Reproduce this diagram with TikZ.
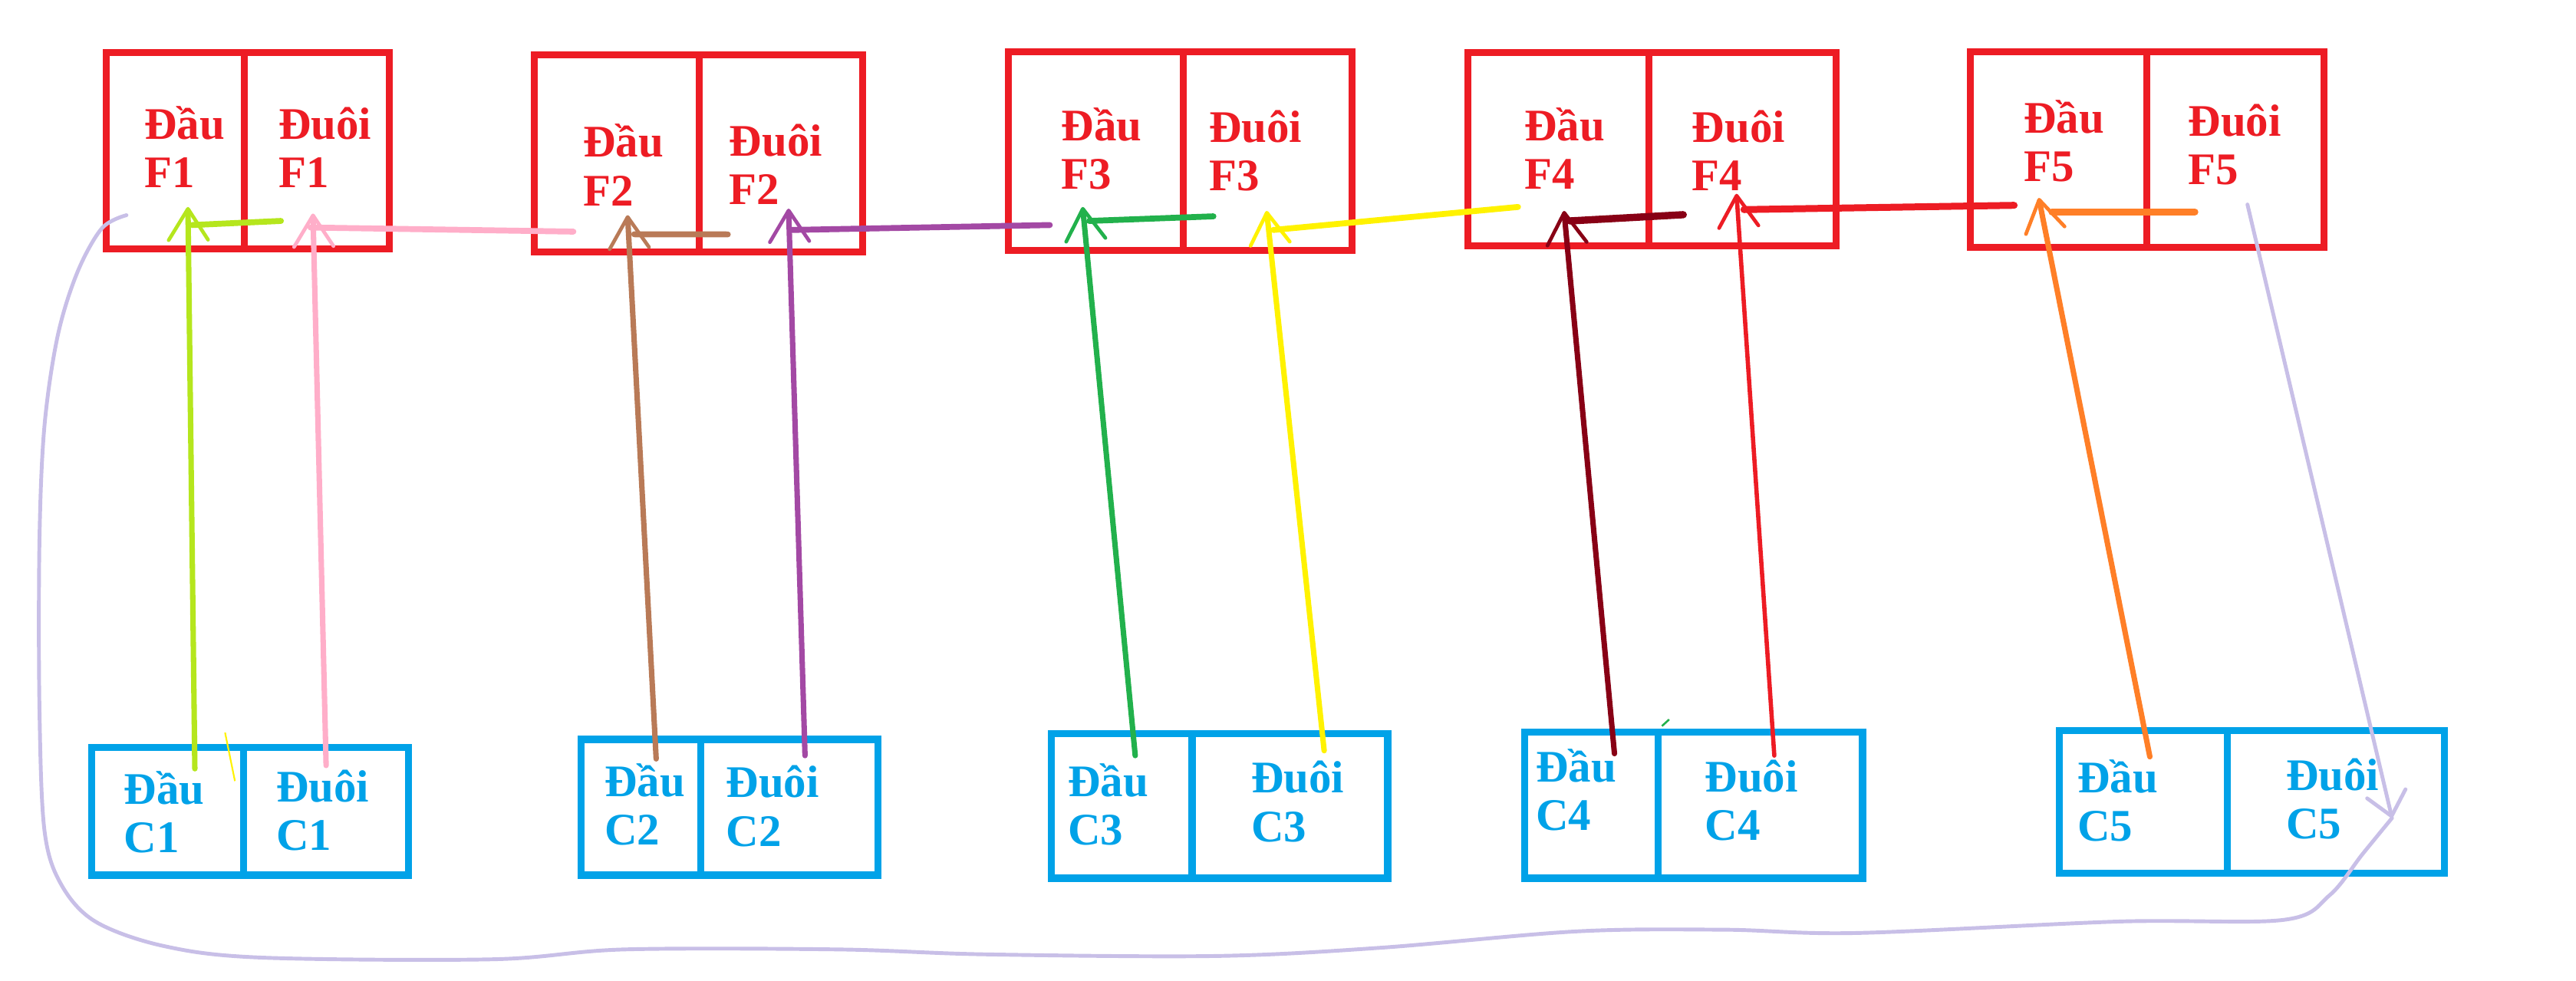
\documentclass[tikz,border=0pt]{standalone}
\usepackage{fontspec}
\setmainfont{Liberation Serif}
\usetikzlibrary{arrows.meta,fit}
\definecolor{fred}{HTML}{ED1C24}
\definecolor{cblue}{HTML}{00A2E8}
\definecolor{clime}{HTML}{B5E61D}
\definecolor{cpink}{HTML}{FFAEC9}
\definecolor{cbrown}{HTML}{B97A57}
\definecolor{cpurple}{HTML}{A349A4}
\definecolor{cgreen}{HTML}{22B14C}
\definecolor{cyellow}{HTML}{FFF200}
\definecolor{cdarkred}{HTML}{880015}
\definecolor{corange}{HTML}{FF7F27}
\definecolor{clav}{HTML}{C8BFE7}
\newcommand{\twoline}[2]{\begin{tabular}[t]{@{}l@{}}#1\\#2\end{tabular}}
\tikzset{
  fcell/.style={draw=fred, line width=4.2pt, inner sep=0pt, line join=miter},
  ccell/.style={draw=cblue, line width=4.4pt, inner sep=0pt, line join=miter},
  celltext/.style={anchor=base west, inner sep=0pt, outer sep=0pt,
    font=\bfseries\fontsize{27.5}{29.5}\selectfont},
  ftext/.style={celltext, text=fred},
  ctext/.style={celltext, text=cblue},
  ptr/.style={line width=3.3pt, line cap=round,
    -{Straight Barb[length=19pt,width=24pt,line width=2.2pt,round]}},
  link/.style={line width=3.6pt, line cap=round},
  lav/.style={draw=clav, line width=2.3pt, line cap=round, line join=round}
}
\begin{document}
\begin{tikzpicture}[x=1pt,y=-1pt]
\useasboundingbox (0,0) rectangle (1568,597);
\fill[white] (0,0) rectangle (1568,597);

% ---------- red F boxes ----------
\node[fcell, fit={(64.7,32) (148.5,151.6)}] (F1a) {};
\node[fcell, fit={(148.5,32) (237,151.6)}] (F1b) {};
\node[fcell, fit={(325.3,33.2) (425.4,153.6)}] (F2a) {};
\node[fcell, fit={(425.4,33.2) (525.3,153.6)}] (F2b) {};
\node[fcell, fit={(613.9,31.4) (720.3,152.6)}] (F3a) {};
\node[fcell, fit={(720.3,31.4) (823,152.6)}] (F3b) {};
\node[fcell, fit={(893.6,32.1) (1003.8,149.7)}] (F4a) {};
\node[fcell, fit={(1003.8,32.1) (1117.8,149.7)}] (F4b) {};
\node[fcell, fit={(1199.1,31.4) (1306.8,150.6)}] (F5a) {};
\node[fcell, fit={(1306.8,31.4) (1414.6,150.6)}] (F5b) {};

% ---------- blue C boxes ----------
\node[ccell, fit={(55.7,455) (148.3,532.7)}] (C1a) {};
\node[ccell, fit={(148.3,455) (248.7,532.7)}] (C1b) {};
\node[ccell, fit={(353.7,450.2) (426.5,532.7)}] (C2a) {};
\node[ccell, fit={(426.5,450.2) (534.5,532.7)}] (C2b) {};
\node[ccell, fit={(640,446.6) (725.6,534.6)}] (C3a) {};
\node[ccell, fit={(725.6,446.6) (844.7,534.6)}] (C3b) {};
\node[ccell, fit={(928.1,445.7) (1009.3,534.6)}] (C4a) {};
\node[ccell, fit={(1009.3,445.7) (1133.7,534.6)}] (C4b) {};
\node[ccell, fit={(1253.5,444.8) (1355.8,531.7)}] (C5a) {};
\node[ccell, fit={(1355.8,444.8) (1487.9,531.7)}] (C5b) {};

% ---------- texts ----------
\node[ftext] (tF1a) at (87.9,84.8) {\twoline{Đầu}{F1}};
\node[ftext] (tF1b) at (169.6,84.8) {\twoline{Đuôi}{F1}};
\node[ftext] (tF2a) at (355,95.7) {\twoline{Đầu}{F2}};
\node[ftext] (tF2b) at (444,95) {\twoline{Đuôi}{F2}};
\node[ftext] (tF3a) at (646,85.6) {\twoline{Đầu}{F3}};
\node[ftext] (tF3b) at (736,86.5) {\twoline{Đuôi}{F3}};
\node[ftext] (tF4a) at (928,85.6) {\twoline{Đầu}{F4}};
\node[ftext] (tF4b) at (1030,86.7) {\twoline{Đuôi}{F4}};
\node[ftext] (tF5a) at (1232,81) {\twoline{Đầu}{F5}};
\node[ftext] (tF5b) at (1332,82.7) {\twoline{Đuôi}{F5}};

\node[ctext] (tC1a) at (75.5,489.5) {\twoline{Đầu}{C1}};
\node[ctext] (tC1b) at (168.1,488) {\twoline{Đuôi}{C1}};
\node[ctext] (tC2a) at (368,484.8) {\twoline{Đầu}{C2}};
\node[ctext] (tC2b) at (442,485.6) {\twoline{Đuôi}{C2}};
\node[ctext] (tC3a) at (650,484.8) {\twoline{Đầu}{C3}};
\node[ctext] (tC3b) at (761.6,482.8) {\twoline{Đuôi}{C3}};
\node[ctext] (tC4a) at (935,476) {\twoline{Đầu}{C4}};
\node[ctext] (tC4b) at (1037.8,482) {\twoline{Đuôi}{C4}};
\node[ctext] (tC5a) at (1264.5,482.5) {\twoline{Đầu}{C5}};
\node[ctext] (tC5b) at (1391.5,481) {\twoline{Đuôi}{C5}};

% ---------- connector end points ----------
\coordinate (s1a) at (118.6,468);   \coordinate (t1a) at (114.4,126);
\coordinate (h1a) at (171,134.5);   \coordinate (j1a) at (117,137);
\coordinate (s1b) at (198.5,466);   \coordinate (t1b) at (190.5,130);
\coordinate (h1b) at (349,141);     \coordinate (j1b) at (189,138.5);
\coordinate (s2a) at (399.4,462);   \coordinate (t2a) at (382,131);
\coordinate (h2a) at (443,142.7);   \coordinate (j2a) at (386,142.6);
\coordinate (s2b) at (490,460);     \coordinate (t2b) at (480,127);
\coordinate (h2b) at (639,137);     \coordinate (j2b) at (482,140);
\coordinate (s3a) at (691,460);     \coordinate (t3a) at (659,126);
\coordinate (h3a) at (738.6,131.7); \coordinate (j3a) at (663,134.5);
\coordinate (s3b) at (806,457);     \coordinate (t3b) at (771,128.4);
\coordinate (h3b) at (924,126);     \coordinate (j3b) at (775,140);
\coordinate (s4a) at (982.7,458.8); \coordinate (t4a) at (952,128.4);
\coordinate (h4a) at (1024.6,130.7);\coordinate (j4a) at (955.6,134.5);
\coordinate (s4b) at (1080,460);    \coordinate (t4b) at (1057,118);
\coordinate (h4b) at (1226,125);    \coordinate (j4b) at (1061.5,127.6);
\coordinate (s5a) at (1308.6,460.7);\coordinate (t5a) at (1241,120.5);
\coordinate (h5a) at (1336,129);    \coordinate (j5a) at (1249,129);
\coordinate (s5b) at (1368,124.5);  \coordinate (t5b) at (1456,498);
\coordinate (l0) at (77,131);
\coordinate (y0a) at (137,446);     \coordinate (y0b) at (143,475.5);
\coordinate (g0a) at (1011.6,442);  \coordinate (g0b) at (1016,438);

% ---------- connectors ----------
\draw[ptr, clime] (s1a) -- (t1a);
\draw[link, clime] (h1a) -- (j1a);
\draw[ptr, cpink] (s1b) -- (t1b);
\draw[link, cpink] (h1b) -- (j1b);
\draw[ptr, cbrown] (s2a) -- (t2a);
\draw[link, cbrown] (h2a) -- (j2a);
\draw[ptr, cpurple] (s2b) -- (t2b);
\draw[link, cpurple] (h2b) -- (j2b);
\draw[ptr, cgreen] (s3a) -- (t3a);
\draw[link, cgreen] (h3a) -- (j3a);
\draw[ptr, cyellow] (s3b) -- (t3b);
\draw[link, cyellow] (h3b) -- (j3b);
\draw[ptr, cdarkred] (s4a) -- (t4a);
\draw[link, cdarkred, line width=4.4pt] (h4a) -- (j4a);
\draw[ptr, fred, line width=2.6pt] (s4b) -- (t4b);
\draw[link, fred, line width=4.2pt] (h4b) -- (j4b);
\draw[ptr, corange] (s5a) -- (t5a);
\draw[link, corange, line width=4.2pt] (h5a) -- (j5a);
\draw[lav, -{Straight Barb[length=14pt,width=24pt,line width=2.3pt,round]}] (s5b) -- (t5b);
\draw[lav] plot[smooth, tension=0.55] coordinates {(l0) (62,139) (47,166) (35,205)
  (27,260) (24,330) (24,430) (27,505) (37,538) (58,561) (100,576) (160,583)
  (300,584) (380,578) (510,578) (600,581) (740,582) (840,577) (960,567)
  (1050,566) (1130,568) (1290,561) (1390,560) (1418,545) (1438,520) (t5b)};
\draw[cyellow, line width=1pt] (y0a) -- (y0b);
\draw[cgreen, line width=1.2pt] (g0a) -- (g0b);
\end{tikzpicture}
\end{document}
